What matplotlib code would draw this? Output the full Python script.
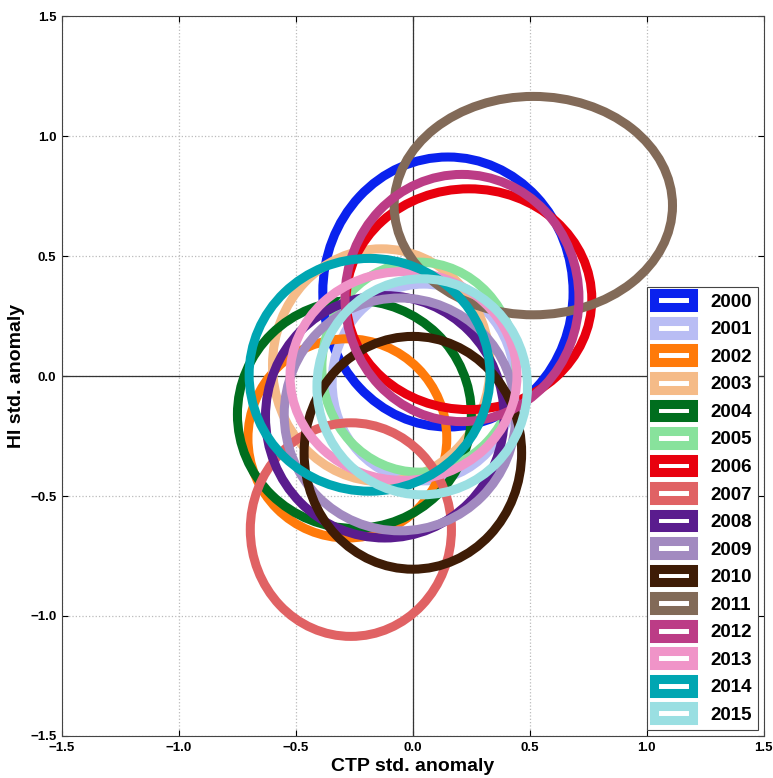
import matplotlib
matplotlib.use("Agg")
import matplotlib.pyplot as plt
from matplotlib.patches import Ellipse

plt.rcParams["font.family"] = ["Liberation Sans", "DejaVu Sans"]

# yearly anomaly ellipses: centre (CTP, HI) and full width / height
years = ["2000", "2001", "2002", "2003", "2004", "2005", "2006", "2007",
         "2008", "2009", "2010", "2011", "2012", "2013", "2014", "2015"]
ctp_center = [0.15, 0.045, -0.28, -0.135, -0.25, 0.026, 0.24, -0.265,
              -0.12, -0.055, 0.0, 0.515, 0.21, -0.04, -0.185, 0.04]
hi_center = [0.35, -0.027, -0.26, 0.045, -0.16, 0.037, 0.32, -0.64,
             -0.17, -0.16, -0.32, 0.71, 0.325, 0.0, 0.005, -0.045]
ctp_width = [1.07, 0.78, 0.85, 0.93, 1.0, 0.83, 1.05, 0.86,
             1.02, 0.99, 0.93, 1.19, 1.0, 0.97, 1.03, 0.9]
hi_height = [1.125, 0.82, 0.83, 0.97, 0.95, 0.875, 0.92, 0.89,
             1.01, 0.97, 0.97, 0.91, 1.03, 0.87, 0.97, 0.9]
colors = ["#0a22ee", "#b9bdf4", "#ff7a0a", "#f5bb88", "#006e1e", "#88e29c",
          "#e8000e", "#e06264", "#5a1c8e", "#a28ac0", "#3e1c06", "#826a58",
          "#bc3c86", "#f094c8", "#00a6b2", "#9adfe2"]

fig = plt.figure(figsize=(7.73, 7.78), dpi=100)
ax = fig.add_axes([0.0802, 0.054, 0.9078, 0.9254])

for yr, cx, cy, w, h, c in zip(years, ctp_center, hi_center, ctp_width, hi_height, colors):
    e = Ellipse((cx, cy), w, h, facecolor="none", edgecolor=c, linewidth=6.5,
                label=yr, zorder=2)
    ax.add_patch(e)

# zero lines sit above the grid but under the ellipses
ax.axhline(0, color="#333333", linewidth=0.9, zorder=1.5)
ax.axvline(0, color="#333333", linewidth=0.9, zorder=1.5)

ax.set_xlim(-1.5, 1.5)
ax.set_ylim(-1.5, 1.5)
ticks = [-1.5, -1.0, -0.5, 0.0, 0.5, 1.0, 1.5]
ax.set_xticks(ticks)
ax.set_yticks(ticks)
ax.set_xticklabels([f"{t:.1f}".replace("-", "\u2212") for t in ticks], fontweight="bold", fontsize=9.5)
ax.set_yticklabels([f"{t:.1f}".replace("-", "\u2212") for t in ticks], fontweight="bold", fontsize=9.5)
ax.tick_params(direction="in", top=True, right=True, length=4, pad=4)
ax.grid(True, color="#bbbbbb", linestyle=":", linewidth=0.9, zorder=0)
ax.set_axisbelow(True)
for s in ax.spines.values():
    s.set_color("#444444")

ax.set_xlabel("CTP std. anomaly", fontsize=14, fontweight="bold", labelpad=3)
ax.set_ylabel("HI std. anomaly", fontsize=14, fontweight="bold", labelpad=4)

leg = ax.legend(loc="lower right", prop={"weight": "bold", "size": 13.5},
                handlelength=2.1, handleheight=0.75, labelspacing=0.54,
                borderaxespad=0.3, fancybox=False, framealpha=1,
                edgecolor="#444444", handletextpad=0.9, borderpad=0.35)
leg.get_frame().set_linewidth(0.8)

fig.savefig("out.png", dpi=100)
